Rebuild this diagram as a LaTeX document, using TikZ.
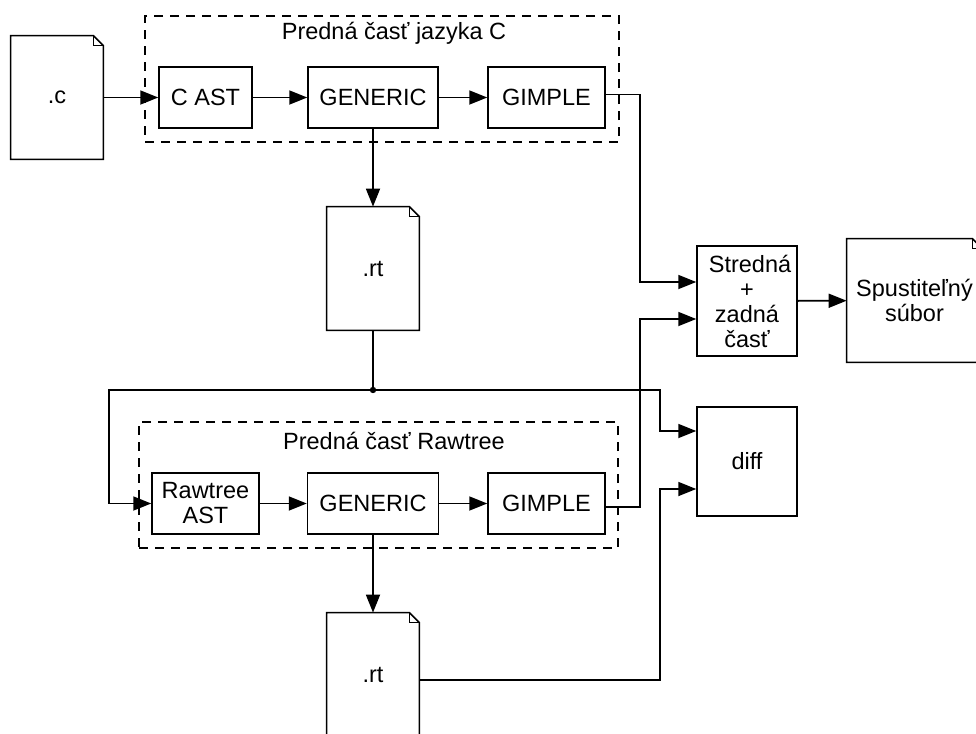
\documentclass[tikz,border=0pt]{standalone}
\usepackage{fontspec}
\setmainfont{Liberation Sans}
\usetikzlibrary{arrows.meta,calc}
\tikzset{
  boxline/.style={line width=0.75pt},
  box/.style={draw, boxline, inner sep=0pt, align=center, font=\fontsize{11.75}{12.5}\selectfont},
  fnode/.style={inner sep=0pt, align=center, font=\fontsize{11.75}{12.5}\selectfont},
  dashbox/.style={draw, line width=0.7pt, dash pattern=on 4.5pt off 3.5pt, inner sep=0pt},
  title/.style={inner sep=0pt, font=\fontsize{11.75}{12.5}\selectfont},
  arr/.style={line width=0.9pt, -{Triangle[length=9pt,width=7pt]}},
  conn/.style={line width=0.9pt}
}
\newcommand{\dogear}[1]{%
  \draw[boxline] (#1.north west) -- ($(#1.north east)+(-10,0)$) -- ($(#1.north east)+(0,10)$) -- (#1.south east) -- (#1.south west) -- cycle;
  \draw[boxline] ($(#1.north east)+(-10,0)$) |- ($(#1.north east)+(0,10)$);}
\begin{document}
\begin{tikzpicture}[x=0.5pt,y=-0.5pt]
\useasboundingbox (0,0) rectangle (976,734);
\clip (0,0) rectangle (976,734);

% dashed groups
\node[dashbox, minimum width=237pt, minimum height=63pt] (fe1) at (382,79) {};
\node[title] (t1) at (394,33) {Predná časť jazyka C};
\node[dashbox, minimum width=239.5pt, minimum height=63pt] (fe2) at (378.5,485) {};
\node[title] (t2) at (394,441) {Predná časť Rawtree};

% files
\node[fnode, minimum width=46pt, minimum height=61.5pt] (fc) at (57,97.5) {.c};
\dogear{fc}
\node[fnode, minimum width=46pt, minimum height=61.5pt] (rt1) at (373,268.5) {.rt};
\dogear{rt1}
\node[fnode, minimum width=46pt, minimum height=61.5pt] (rt2) at (373,674.5) {};
\dogear{rt2}
\node[fnode] (rt2t) at (373,675) {.rt};
\node[fnode, minimum width=67.5pt, minimum height=61.5pt] (exe) at (914.5,300.5) {Spustiteľný\\súbor};
\dogear{exe}

% boxes
\node[box, minimum width=46.5pt, minimum height=30.5pt] (cast) at (205.5,97.5) {C AST};
\node[box, minimum width=65pt, minimum height=30.5pt] (gen1) at (373,97.5) {GENERIC};
\node[box, minimum width=58.5pt, minimum height=30.5pt] (gim1) at (546.5,97.5) {GIMPLE};
\node[box, minimum width=53.5pt, minimum height=30.5pt] (raw) at (205.5,503.5) {Rawtree\\AST};
\node[box, minimum width=65.5pt, minimum height=30.5pt] (gen2) at (373,503.5) {GENERIC};
\node[box, minimum width=58.5pt, minimum height=30.5pt] (gim2) at (546.5,503.5) {GIMPLE};
\node[box, minimum width=50pt, minimum height=55pt] (mid) at (747,301) {\hspace*{3pt}Stredná\\+\\zadná\\časť};
\node[box, minimum width=50pt, minimum height=54.5pt] (diff) at (747,461.5) {diff};

\coordinate (j) at (373,390);

% connectors
\draw[arr] (fc) -- (cast);
\draw[arr] (cast) -- (gen1);
\draw[arr] (gen1) -- (gim1);
\draw[arr] ($(gim1.east)+(0,-3)$) -- (640,94.5) |- ($(mid.west)+(0,-19)$);
\draw[arr] (gen1) -- (rt1);
\draw[conn] (rt1) -- (j);
\fill (j) circle (1.6pt);
\draw[arr] (j) -- (109,390) |- (raw.west);
\draw[arr] (j) -- (660,390) |- ($(diff.west)+(0,-30.5)$);
\draw[arr] (raw) -- (gen2);
\draw[arr] (gen2) -- (gim2);
\draw[arr] ($(gim2.east)+(0,3.5)$) -- (640,507) |- ($(mid.west)+(0,18)$);
\draw[arr] (gen2) -- (rt2);
\draw[arr] ($(rt2.east)+(0,5.5)$) -- (660,680) |- ($(diff.west)+(0,27.5)$);
\draw[arr] (mid) -- (exe);
\end{tikzpicture}
\end{document}
